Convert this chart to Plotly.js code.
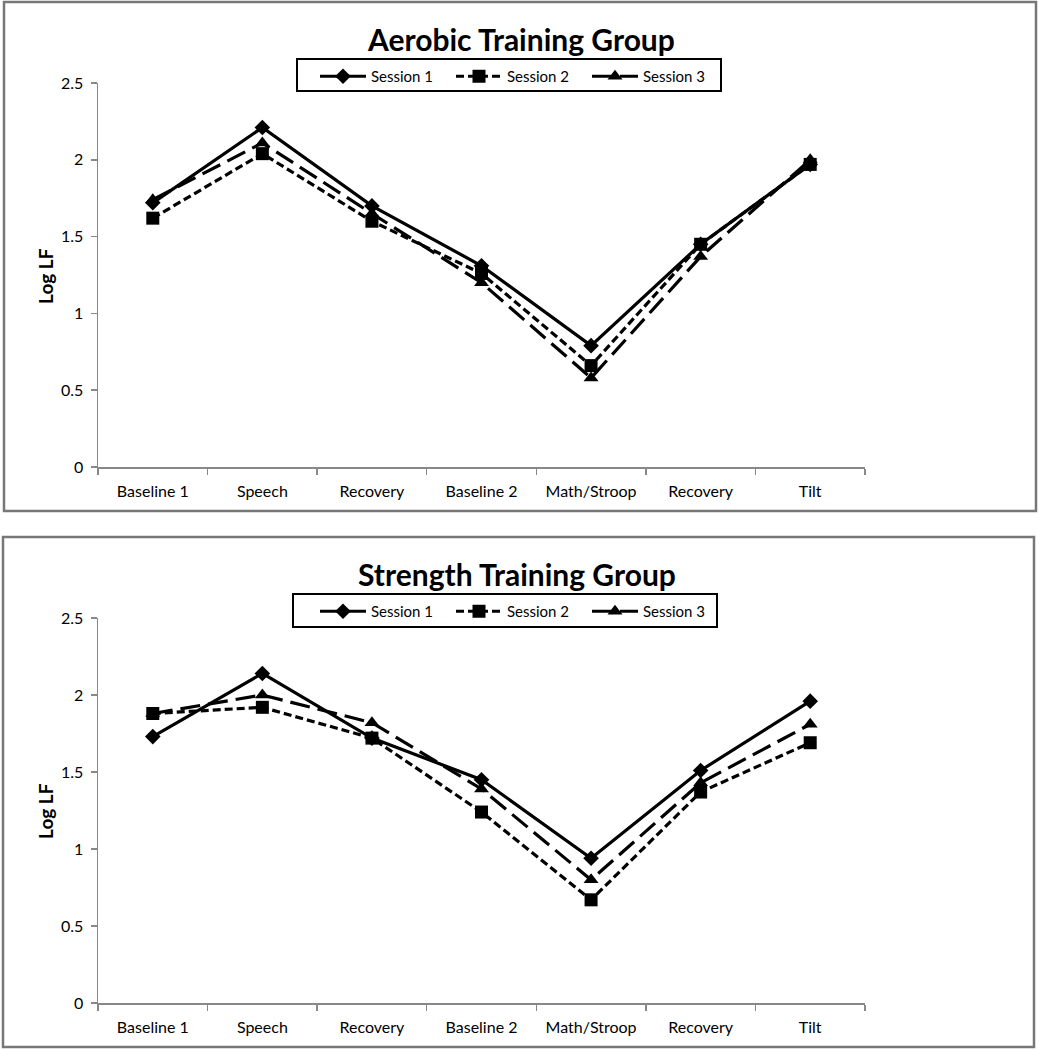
<!DOCTYPE html>
<html>
<head>
<meta charset="utf-8">
<script src="https://cdn.plot.ly/plotly-3.0.1.min.js"></script>
<style>html,body{margin:0;padding:0;background:#fff;}#chart{width:1039px;height:1050px;}</style>
</head>
<body>
<div id="chart"></div>
<script>
const categories = ["Baseline 1", "Speech", "Recovery", "Baseline 2", "Math/Stroop", "Recovery ", "Tilt"];
const tickLabels = ["Baseline 1", "Speech", "Recovery", "Baseline 2", "Math/Stroop", "Recovery", "Tilt"];
const seriesNames = ["Session 1", "Session 2", "Session 3"];

const aerobicSession1 = [1.72, 2.21, 1.70, 1.31, 0.79, 1.45, 1.97];
const aerobicSession2 = [1.62, 2.04, 1.60, 1.26, 0.66, 1.45, 1.97];
const aerobicSession3 = [1.74, 2.11, 1.65, 1.20, 0.58, 1.37, 2.00];

const strengthSession1 = [1.73, 2.14, 1.72, 1.45, 0.94, 1.51, 1.96];
const strengthSession2 = [1.88, 1.92, 1.72, 1.24, 0.67, 1.37, 1.69];
const strengthSession3 = [1.88, 2.00, 1.82, 1.39, 0.80, 1.43, 1.81];

const panelTitles = ["Aerobic Training Group", "Strength Training Group"];
const yTitle = "Log LF";

const FONT = "Lato, 'Open Sans', sans-serif";
const styles = [
  {symbol: "diamond", size: 12, dash: "solid"},
  {symbol: "square", size: 13, dash: "8px,4px"},
  {symbol: "triangle-up", size: 13, dash: "20px,8px"}
];

function mk(vals, i, xa, ya, legend) {
  return {
    x: categories, y: vals, type: "scatter", mode: "lines+markers",
    name: seriesNames[i], xaxis: xa, yaxis: ya, legend: legend,
    line: {color: "#000", width: 3.2, dash: styles[i].dash},
    marker: {color: "#000", symbol: styles[i].symbol, size: styles[i].size}
  };
}

const data = [
  mk(aerobicSession1, 0, "x", "y", "legend"),
  mk(aerobicSession2, 1, "x", "y", "legend"),
  mk(aerobicSession3, 2, "x", "y", "legend"),
  mk(strengthSession1, 0, "x2", "y2", "legend2"),
  mk(strengthSession2, 1, "x2", "y2", "legend2"),
  mk(strengthSession3, 2, "x2", "y2", "legend2")
];

const W = 1039, H = 1050;
const px = v => v / W, py = v => 1 - v / H;

function xaxis(anchor) {
  return {
    domain: [px(98), px(865)], anchor: anchor, type: "category",
    range: [-0.5, 6.5], tickson: "boundaries", ticks: "outside", ticklen: 6,
    tickcolor: "#888", tickwidth: 1.5, showline: true, linecolor: "#888", linewidth: 1.5,
    showgrid: false, zeroline: false, tickvals: categories, ticktext: tickLabels,
    ticklabelstandoff: 9,
    tickfont: {family: FONT, size: 16, color: "#000"}, fixedrange: true
  };
}
function yaxis(anchor, dom) {
  return {
    domain: dom, anchor: anchor, range: [0, 2.5], dtick: 0.5, ticks: "outside", ticklen: 6,
    tickcolor: "#888", tickwidth: 1.5, showline: true, linecolor: "#888", linewidth: 1.5,
    showgrid: false, zeroline: false, ticklabelstandoff: 4,
    tickfont: {family: FONT, size: 16, color: "#000"},
    fixedrange: true
  };
}

function legendCfg(topPx) {
  return {
    orientation: "h", x: px(315), y: py(topPx), xanchor: "left", yanchor: "top",
    borderwidth: 0, bgcolor: "rgba(0,0,0,0)",
    font: {family: FONT, size: 15, color: "#000"},
    entrywidth: 75, itemwidth: 46, tracegroupgap: 0
  };
}

function titleAnn(text, x, y) {
  return {text: "<b>" + text + "</b>", xref: "paper", yref: "paper", x: px(x), y: py(y),
    xanchor: "center", yanchor: "middle", showarrow: false, font: {family: FONT, size: 30, color: "#000"}};
}
function yTitleAnn(y) {
  return {text: "<b>" + yTitle + "</b>", xref: "paper", yref: "paper", x: px(45), y: py(y),
    xanchor: "center", yanchor: "middle", textangle: -90, showarrow: false,
    font: {family: FONT, size: 19, color: "#000"}};
}
function rect(x0, y0, x1, y1, color, width) {
  return {type: "rect", xref: "paper", yref: "paper", x0: px(x0), x1: px(x1), y0: py(y1), y1: py(y0),
    line: {color: color, width: width}};
}

const layout = {
  width: W, height: H, margin: {l: 0, r: 0, t: 0, b: 0},
  paper_bgcolor: "#fff", plot_bgcolor: "#fff",
  showlegend: true,
  xaxis: xaxis("y"),
  yaxis: yaxis("x", [py(467), py(83)]),
  xaxis2: xaxis("y2"),
  yaxis2: yaxis("x2", [py(1003), py(618)]),
  legend: legendCfg(60),
  legend2: legendCfg(595),
  annotations: [
    titleAnn(panelTitles[0], 521, 39),
    titleAnn(panelTitles[1], 517, 574),
    yTitleAnn(276),
    yTitleAnn(811)
  ],
  shapes: [
    rect(4, 2, 1036, 511, "#777", 2.5),
    rect(3, 537, 1034, 1047, "#777", 2.5),
    rect(297, 59, 721, 91, "#000", 2),
    rect(293, 594, 717, 627, "#000", 2)
  ]
};

Plotly.newPlot("chart", data, layout, {staticPlot: true});
</script>
</body>
</html>
